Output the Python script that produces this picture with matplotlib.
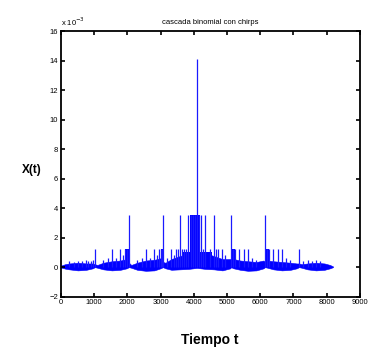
import matplotlib.pyplot as plt

# Datos (en unidades de 10^-3) ###########################################

# envolvente de la banda de fondo
t_env = [0, 128, 256, 512, 768, 960, 1024, 1100, 1280, 1536, 1792, 1980, 2048,
         2120, 2300, 2560, 2816, 3000, 3072, 3150, 3328, 3584, 3840, 4096, 4352,
         4608, 4864, 5100, 5120, 5200, 5400, 5632, 5888, 6100, 6144, 6220, 6400,
         6656, 6912, 7100, 7168, 7250, 7424, 7680, 7936, 8100, 8192]
sup_env = [0.1, 0.2, 0.25, 0.3, 0.25, 0.25, 0.2, 0.15, 0.3, 0.4, 0.45, 0.55, 0.3,
           0.15, 0.3, 0.45, 0.5, 0.6, 0.35, 0.3, 0.55, 0.75, 0.95, 1.05, 0.95,
           0.75, 0.55, 0.55, 0.45, 0.55, 0.45, 0.4, 0.35, 0.45, 0.35, 0.45, 0.4,
           0.35, 0.3, 0.25, 0.25, 0.2, 0.25, 0.3, 0.25, 0.15, 0.05]
inf_env = [-0.02, -0.1, -0.15, -0.22, -0.18, -0.08, 0.0, -0.04, -0.15, -0.22, -0.18, -0.08, 0.0,
           -0.04, -0.18, -0.25, -0.22, -0.08, 0.0, -0.08, -0.18, -0.15, -0.12, -0.05, -0.12,
           -0.15, -0.22, -0.08, 0.0, -0.08, -0.18, -0.25, -0.22, -0.08, 0.0, -0.04, -0.15,
           -0.22, -0.18, -0.08, 0.0, -0.04, -0.15, -0.22, -0.18, -0.08, 0.0]

# picos
picos_t = [256, 384, 512, 640, 768, 832, 896, 960, 1024,
           1280, 1408, 1536, 1664, 1792, 1856, 1920, 1984, 2048,
           2304, 2432, 2560, 2688, 2816, 2880, 2944, 3008, 3040, 3072,
           3200, 3328, 3392, 3456, 3520, 3584, 3648, 3712, 3776, 3840, 3904, 3968, 4032, 4096,
           4160, 4224, 4288, 4352, 4480, 4608, 4672, 4736, 4864, 4928, 5120,
           5184, 5248, 5376, 5504, 5632, 5760, 5888, 6144,
           6208, 6272, 6400, 6528, 6656, 6784, 6912, 7168,
           7296, 7424, 7552, 7680, 7808]
picos_h = [0.45, 0.35, 0.45, 0.4, 0.5, 0.4, 0.45, 0.5, 1.25,
           0.5, 0.6, 1.25, 0.6, 1.25, 0.8, 1.25, 1.25, 3.55,
           0.5, 0.6, 1.25, 0.6, 1.25, 0.8, 1.25, 1.25, 1.25, 3.55,
           0.6, 1.25, 0.8, 1.25, 1.25, 3.55, 1.25, 1.25, 1.25, 3.55, 3.55, 3.55, 3.55, 14.1,
           3.55, 3.55, 1.25, 3.55, 1.25, 3.55, 1.25, 1.25, 1.25, 0.8, 3.55,
           1.25, 1.25, 1.25, 1.25, 1.25, 0.6, 0.5, 3.55,
           1.25, 1.25, 1.25, 1.25, 1.25, 0.6, 0.5, 1.25,
           0.4, 0.5, 0.4, 0.5, 0.4]

# bloques densos
bloque_t0 = [1940, 3000, 3650, 3880, 5120, 6144]
bloque_t1 = [2048, 3072, 4550, 4180, 5250, 6250]
bloque_h = [1.25, 1.25, 1.0, 3.55, 1.25, 1.25]

# Grafico ###############################################################

plt.rcParams['font.family'] = ['Liberation Sans', 'DejaVu Sans']

fig = plt.figure(figsize=(3.71, 3.54), dpi=100)
ax = fig.add_axes([0.164, 0.162, 0.806, 0.750])

azul = '#0000ff'
ax.fill_between(t_env, inf_env, sup_env, color=azul, lw=0.4)
ax.vlines(picos_t, 0, picos_h, color='#1a1aff', lw=0.9)
for t0, t1, h in zip(bloque_t0, bloque_t1, bloque_h):
    ax.bar(t0, h, width=t1 - t0, align='edge', color=azul, lw=0)

ax.set_xlim(0, 9000)
ax.set_ylim(-2, 16)
ax.set_xticks(range(0, 9001, 1000))
ax.set_yticks(range(-2, 17, 2))
ax.tick_params(direction='in', length=3, width=1.2, labelsize=5.5,
               top=True, right=True, pad=2)
for s in ax.spines.values():
    s.set_linewidth(1.3)

ax.set_title('cascada binomial con chirps', fontsize=5.5, pad=5)
ax.text(0.0, 1.012, 'x 10$^{-3}$', transform=ax.transAxes, fontsize=5.5,
        ha='left', va='bottom')
fig.text(0.085, 0.52, 'X(t)', fontsize=8.5, fontweight='bold', ha='center', va='center')
fig.text(0.565, 0.04, 'Tiempo t', fontsize=10, fontweight='bold', ha='center', va='center')

fig.savefig('out.png', dpi=100)
